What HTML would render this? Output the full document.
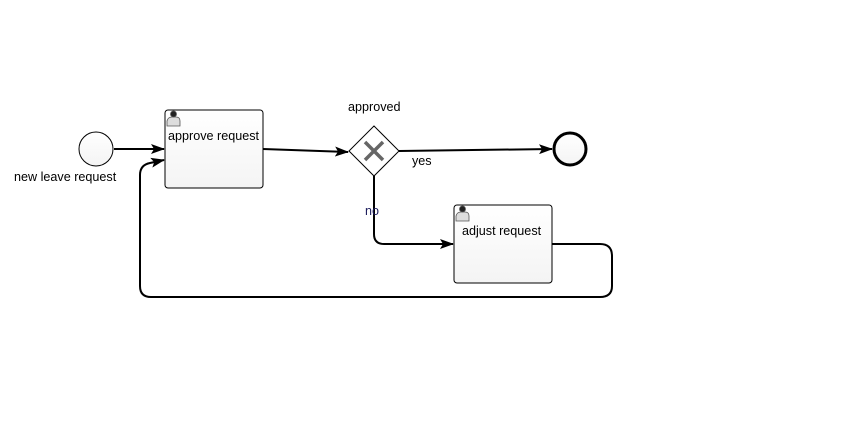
<!DOCTYPE html>
<html><head><style>
html,body{margin:0;padding:0;background:#fff;width:845px;height:440px;overflow:hidden}
text{font-family:"Liberation Sans",sans-serif;font-size:12.6px;fill:#000}
</style></head><body>
<svg width="845" height="440" xmlns="http://www.w3.org/2000/svg">
<defs>
<linearGradient id="g" x1="0" y1="0" x2="0" y2="1"><stop offset="0" stop-color="#fff"/><stop offset="1" stop-color="#f4f4f4"/></linearGradient>
<marker id="a" markerWidth="14" markerHeight="10" refX="13" refY="5" orient="auto" markerUnits="userSpaceOnUse"><path d="M0,0 L14,5 L0,10 L3,5 Z" fill="#000"/></marker>
</defs>
<g stroke="#000" stroke-width="2" fill="none">
<line x1="114" y1="149" x2="164" y2="149" marker-end="url(#a)"/>
<line x1="263" y1="149" x2="348" y2="152" marker-end="url(#a)"/>
<line x1="399" y1="151" x2="552" y2="149" marker-end="url(#a)"/>
<path d="M374,176 L374,234 Q374,244 384,244 L453,244" marker-end="url(#a)"/>
<path d="M552,244 L600,244 Q612,244 612,256 L612,286 Q612,297 600,297 L151,297 Q140,297 140,286 L140,175 Q140,165 150,163 L164,160" marker-end="url(#a)"/>
</g>
<circle cx="96" cy="149" r="17" fill="url(#g)" stroke="#000" stroke-width="1"/>
<circle cx="570" cy="149" r="16" fill="url(#g)" stroke="#000" stroke-width="3"/>
<rect x="165" y="110" width="98" height="78" rx="3" fill="url(#g)" stroke="#000" stroke-width="1"/>
<rect x="454" y="205" width="98" height="78" rx="3" fill="url(#g)" stroke="#000" stroke-width="1"/>
<g fill="#ddd" stroke="#555" stroke-width="0.8">
<path d="M167,126 L167,121 Q168,117 172,117 L176,117 Q180,117 180,121 L180,126 Z"/>
<circle cx="173.5" cy="114" r="3" fill="#222"/>
<path d="M456,221 L456,216 Q457,212 461,212 L465,212 Q469,212 469,216 L469,221 Z"/>
<circle cx="462.5" cy="209" r="3" fill="#222"/>
</g>
<path d="M374,126 L399,151 L374,176 L349,151 Z" fill="#fff" stroke="#000" stroke-width="1"/>
<path d="M365,142 L383,160 M383,142 L365,160" stroke="#666" stroke-width="3.5"/>
<text x="14" y="181">new leave request</text>
<text x="168" y="140">approve request</text>
<text x="462" y="235">adjust request</text>
<text x="348" y="111">approved</text>
<text x="412" y="165">yes</text>
<text x="365" y="215" style="fill:#1a1a5a">no</text>
</svg>
</body></html>
